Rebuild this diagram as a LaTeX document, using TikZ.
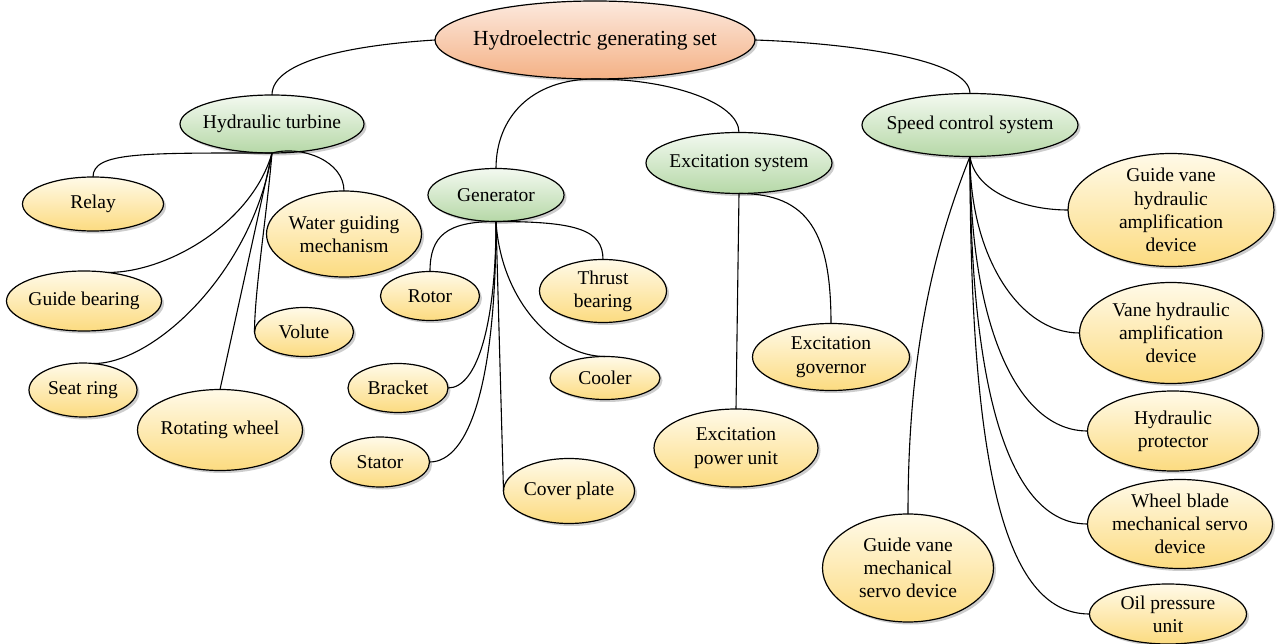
\documentclass[tikz,border=0pt]{standalone}
\usepackage{fontspec}
\setmainfont{Liberation Serif}
\usetikzlibrary{shapes.geometric,shadows}

\definecolor{rootTop}{HTML}{FCE9DE}
\definecolor{rootBot}{HTML}{F4B185}
\definecolor{greenTop}{HTML}{F3F9F0}
\definecolor{greenBot}{HTML}{B6D8A7}
\definecolor{leafTop}{HTML}{FFFAE8}
\definecolor{leafBot}{HTML}{FCDB80}

\newcommand\mmfont{\fontsize{19.5}{23.3}\selectfont}
\newcommand\mmrootfont{\fontsize{21.5}{25}\selectfont}

\begin{document}
\begin{tikzpicture}[x=1pt,y=-1pt,
  bubble/.style={ellipse, draw=black, line width=1.2pt, inner sep=0pt, outer sep=0pt,
    drop shadow={shadow xshift=2.5pt, shadow yshift=-2.5pt, opacity=0.28, fill=black!70}},
  sz/.style 2 args={minimum width=#1pt, minimum height=#2pt},
  txt/.style={label={[align=center, font=\mmfont, inner sep=0pt]center:#1}},
  roottxt/.style={label={[align=center, font=\mmrootfont, inner sep=0pt]center:#1}},
  rootnode/.style={bubble, top color=rootTop, bottom color=rootBot},
  topic/.style={bubble, top color=greenTop, bottom color=greenBot},
  leaf/.style={bubble, top color=leafTop, bottom color=leafBot},
  link/.style={line width=1.1pt, black}
]
\useasboundingbox (0,0) rectangle (1278,644);

% root and the four subsystems
\node[rootnode, sz={320}{78}, roottxt={Hydroelectric generating set}] (root) at (595,40) {};
\node[topic, sz={184}{58}, txt={Hydraulic turbine}] (turbine) at (272,124) {};
\node[topic, sz={136}{53}, txt={Generator}] (gen) at (496,195) {};
\node[topic, sz={186}{61}, txt={Excitation system}] (exc) at (739,163) {};
\node[topic, sz={216}{63}, txt={Speed control system}] (speed) at (970,125) {};

% hydraulic turbine parts
\node[leaf, sz={141}{54}, txt={Relay}] (relay) at (93,204) {};
\node[leaf, sz={155}{86}, txt={Water guiding\\mechanism}] (wgm) at (344,234) {};
\node[leaf, sz={155}{60}, txt={Guide bearing}] (gbear) at (84,301) {};
\node[leaf, sz={99}{49}, txt={Volute}] (volute) at (304,332) {};
\node[leaf, sz={108}{54}, txt={Seat ring}] (seat) at (83,390) {};
\node[leaf, sz={165}{81}, txt={Rotating wheel}] (rwheel) at (220,430) {};

% generator parts
\node[leaf, sz={99}{49}, txt={Rotor}] (rotor) at (430,296) {};
\node[leaf, sz={127}{63}, txt={Thrust\\bearing}] (thrust) at (603,291) {};
\node[leaf, sz={100}{49}, txt={Bracket}] (bracket) at (398,388) {};
\node[leaf, sz={110}{43}, txt={Cooler}] (cooler) at (605,378) {};
\node[leaf, sz={99}{50}, txt={Stator}] (stator) at (380,462) {};
\node[leaf, sz={131}{65}, txt={Cover plate}] (cover) at (569,491) {};

% excitation parts
\node[leaf, sz={157}{67}, txt={Excitation\\governor}] (egov) at (831,357) {};
\node[leaf, sz={164}{78}, txt={Excitation\\power unit}] (epu) at (736,448) {};

% speed control parts
\node[leaf, sz={206}{113}, txt={Guide vane\\hydraulic\\amplification\\device}] (gvha) at (1171,210) {};
\node[leaf, sz={183}{101}, txt={Vane hydraulic\\amplification\\device}] (vha) at (1171,333) {};
\node[leaf, sz={171}{80}, txt={Hydraulic\\protector}] (hprot) at (1173,431) {};
\node[leaf, sz={185}{89}, txt={Wheel blade\\mechanical servo\\device}] (wblade) at (1180,524) {};
\node[leaf, sz={157}{60}, txt={Oil pressure\\unit}] (oil) at (1168,614) {};
\node[leaf, sz={171}{108}, txt={Guide vane\\mechanical\\servo device}] (gvms) at (908,568) {};

% root connectors
\draw[link] (root.west) .. controls +(-80,5) and +(0,-35) .. (turbine.north);
\draw[link] (root.east) .. controls +(90,3) and +(0,-35) .. (speed.north);
\draw[link] (root.south) .. controls +(-65,0) and +(0,-50) .. (gen.north);
\draw[link] (root.south) .. controls +(75,0) and +(0,-30) .. (exc.north);

% turbine connectors
\draw[link] (turbine.south) .. controls +(-130,0) and +(0,-25) .. (relay.north);
\draw[link] (turbine.south) .. controls +(30,-8) and +(0,-30) .. (wgm.north);
\draw[link] (turbine.south) .. controls +(-20,70) and +(60,0) .. (gbear.50);
\draw[link] (turbine.south) .. controls +(-20,120) and +(60,0) .. (seat.68);
\draw[link] (turbine.south) -- (rwheel.north);
\draw[link] (turbine.south) .. controls +(-5,60) and +(0,-40) .. (volute.west);

% generator connectors
\draw[link] (gen.south) .. controls +(-50,0) and +(0,-35) .. (rotor.north);
\draw[link] (gen.south) .. controls +(80,0) and +(0,-30) .. (thrust.north);
\draw[link] (gen.south) .. controls +(0,100) and +(30,0) .. (bracket.east);
\draw[link] (gen.south) .. controls +(0,160) and +(40,0) .. (stator.east);
\draw[link] (gen.south) -- (cover.west);
\draw[link] (gen.south) .. controls +(5,80) and +(-50,0) .. (cooler.north);

% excitation connectors
\draw[link] (exc.south) -- (epu.north);
\draw[link] (exc.south) .. controls +(70,0) and +(0,-90) .. (egov.north);

% speed control connectors
\draw[link] (speed.south) .. controls +(-40,100) and +(0,-150) .. (gvms.north);
\draw[link] (speed.south) .. controls +(5,35) and +(-45,0) .. (gvha.west);
\draw[link] (speed.south) .. controls +(0,100) and +(-60,0) .. (vha.west);
\draw[link] (speed.south) .. controls +(0,170) and +(-70,0) .. (hprot.west);
\draw[link] (speed.south) .. controls +(0,230) and +(-80,0) .. (wblade.west);
\draw[link] (speed.south) .. controls +(0,330) and +(-80,0) .. (oil.west);
\end{tikzpicture}
\end{document}
